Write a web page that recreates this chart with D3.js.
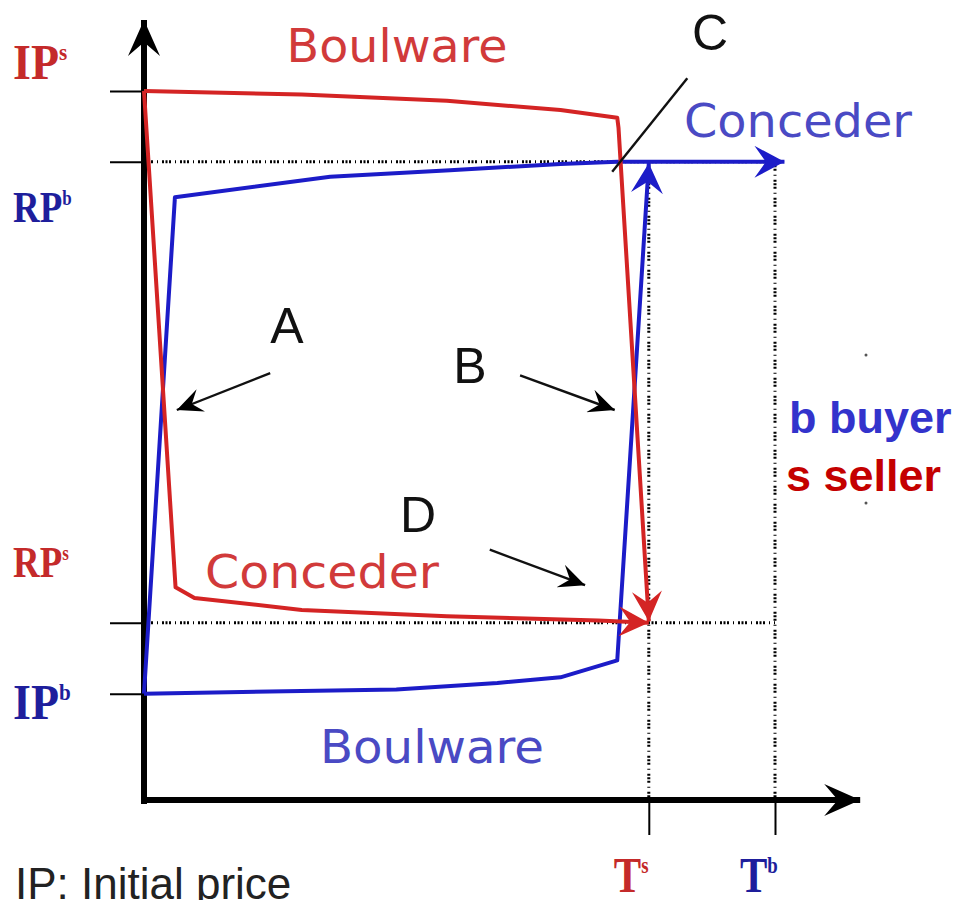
<!DOCTYPE html>
<html>
<head>
<meta charset="utf-8">
<script src="https://cdn.jsdelivr.net/npm/d3@7"></script>
<style>
  body { margin: 0; background: #fff; }
  svg { display: block; }
  .comic { font-family: "Comic Sans MS", "DejaVu Sans", sans-serif; }
  .serif { font-family: "Liberation Serif", "Times New Roman", serif; font-weight: bold; }
  .sans { font-family: "Liberation Sans", Arial, sans-serif; }
</style>
</head>
<body>
<div class="chart"></div>
<script>
const WIDTH = 959;
const HEIGHT = 900;

// price levels on the vertical axis and their labels
const priceTicks = [100, 90, 25, 15];
const priceLabels = [["IP", "s"], ["RP", "b"], ["RP", "s"], ["IP", "b"]];
const priceParty = ["s", "b", "s", "b"];

// deadlines on the time axis
const timeTicks = [80, 100];
const timeLabels = [["T", "s"], ["T", "b"]];
const timeParty = ["s", "b"];

// offer curves [time, price]
const sellerBoulware = [[0, 100], [25, 99.5], [48, 98.6], [66, 97.3], [75, 96.2], [75.2, 94.8], [80, 25.2]];
const sellerConceder = [[0, 100], [5, 30], [8, 28.5], [25, 26.8], [48, 25.9], [72, 25.3], [80, 25]];
const buyerConceder = [[0, 15], [4.9, 85], [29.5, 87.9], [48.5, 88.8], [66, 89.7], [75, 90], [101.5, 90]];
const buyerBoulware = [[0, 15], [40, 15.6], [56, 16.5], [66, 17.3], [75, 19.7], [80, 89.8]];

// annotation pointers [from, to] in [time, price]
const pointerLetters = ["A", "B", "C", "D"];
const pointerFrom = [[20, 60.2], [59.6, 59.9], [86.1, 101.8], [54.8, 35.3]];
const pointerTo = [[5.2, 55], [74.6, 55], [74.2, 88.6], [69.9, 30.3]];
const pointerHead = [true, true, false, true];

const RED = "#d42424";
const BLUE = "#1c1cc8";
const RED_TXT = "#c42a2a";
const BLUE_TXT = "#1e1e9c";

var x = d3.scaleLinear().domain([0, 100]).range([144, 775]);
var y = d3.scaleLinear().domain([0, 110]).range([800, 20]);

var svg = d3.select('.chart').append('svg')
    .attr('width', WIDTH)
    .attr('height', HEIGHT);

// arrowhead markers
var defs = svg.append('defs');
function addMarker(id, color, len, wid) {
    defs.append('marker')
        .attr('id', id)
        .attr('markerUnits', 'userSpaceOnUse')
        .attr('viewBox', (-len) + ' ' + (-wid / 2) + ' ' + (len + 1) + ' ' + wid)
        .attr('refX', 0).attr('refY', 0)
        .attr('markerWidth', len + 1).attr('markerHeight', wid)
        .attr('orient', 'auto')
        .append('path')
        .attr('d', 'M0,0L' + (-len) + ',' + (-wid / 2) + 'L' + (-len * 0.62) + ',0L' + (-len) + ',' + (wid / 2) + 'Z')
        .attr('fill', color);
}
addMarker('arrRed', RED, 30, 30);
addMarker('arrBlue', BLUE, 30, 32);
addMarker('arrAxis', '#000', 36, 32);
addMarker('arrSmall', '#000', 26, 24);

// dotted guides
var guides = svg.append('g')
    .attr('stroke', '#000')
    .attr('stroke-width', 3)
    .attr('stroke-dasharray', '2,1.5,2,1.5,2,4,1,4');
[90, 25].forEach(function (p) {
    guides.append('line')
        .attr('x1', x(0)).attr('x2', x(100))
        .attr('y1', y(p)).attr('y2', y(p));
});
timeTicks.forEach(function (t) {
    guides.append('line')
        .attr('x1', x(t)).attr('x2', x(t))
        .attr('y1', y(90)).attr('y2', y(0));
});

// axes (ticks through d3 axes, lines drawn with arrowheads)
var yAxis = d3.axisLeft(y).tickValues(priceTicks).tickSize(34).tickFormat('');
var xAxis = d3.axisBottom(x).tickValues(timeTicks).tickSize(35).tickFormat('');

var yAxisG = svg.append('g').attr('transform', 'translate(' + x(0) + ',0)').call(yAxis);
var xAxisG = svg.append('g').attr('transform', 'translate(0,' + y(0) + ')').call(xAxis);
[yAxisG, xAxisG].forEach(function (g) {
    g.select('.domain').remove();
    g.selectAll('.tick line').attr('stroke', '#000').attr('stroke-width', 2);
});

svg.append('line')
    .attr('x1', x(0)).attr('y1', y(0) + 4)
    .attr('x2', x(0)).attr('y2', y(110))
    .attr('stroke', '#000').attr('stroke-width', 6)
    .attr('marker-end', 'url(#arrAxis)');
svg.append('line')
    .attr('x1', x(0) - 3).attr('y1', y(0))
    .attr('x2', x(113.5)).attr('y2', y(0))
    .attr('stroke', '#000').attr('stroke-width', 6)
    .attr('marker-end', 'url(#arrAxis)');

// offer curves
var line = d3.line()
    .x(function (d) { return x(d[0]); })
    .y(function (d) { return y(d[1]); });

function drawCurve(data, color, marker) {
    svg.append('path')
        .attr('d', line(data))
        .attr('fill', 'none')
        .attr('stroke', color)
        .attr('stroke-width', 4)
        .attr('stroke-linejoin', 'round')
        .attr('marker-end', 'url(#' + marker + ')');
}
drawCurve(buyerBoulware, BLUE, 'arrBlue');
drawCurve(buyerConceder, BLUE, 'arrBlue');
drawCurve(sellerBoulware, RED, 'arrRed');
drawCurve(sellerConceder, RED, 'arrRed');

// pointers and letters
var letterPos = [[287, 343], [470, 383], [710, 50], [418, 532]];
pointerLetters.forEach(function (letter, i) {
    svg.append('line')
        .attr('x1', x(pointerFrom[i][0])).attr('y1', y(pointerFrom[i][1]))
        .attr('x2', x(pointerTo[i][0])).attr('y2', y(pointerTo[i][1]))
        .attr('stroke', '#111').attr('stroke-width', 2.4)
        .attr('marker-end', pointerHead[i] ? 'url(#arrSmall)' : null);
    svg.append('text')
        .attr('class', 'sans')
        .attr('x', letterPos[i][0]).attr('y', letterPos[i][1])
        .attr('text-anchor', 'middle')
        .attr('font-size', 50)
        .attr('fill', '#111')
        .text(letter);
});

// strategy names
var names = [
    {text: 'Boulware', color: '#d13a3a', cx: 397, by: 62, w: 221},
    {text: 'Conceder', color: '#4a4ac4', cx: 798, by: 137, w: 228},
    {text: 'Conceder', color: '#d13a3a', cx: 322, by: 588, w: 234},
    {text: 'Boulware', color: '#4a4ac4', cx: 432, by: 763, w: 224}
];
names.forEach(function (n) {
    svg.append('text')
        .attr('class', 'comic')
        .attr('x', n.cx - n.w / 2).attr('y', n.by)
        .attr('font-size', 46)
        .attr('textLength', n.w)
        .attr('lengthAdjust', 'spacingAndGlyphs')
        .attr('fill', n.color)
        .text(n.text);
});

// axis labels with superscripts
function supLabel(px, py, parts, color, size, sx) {
    var t = svg.append('text')
        .attr('class', 'serif')
        .attr('transform', 'translate(' + px + ',' + py + ') scale(' + sx + ',1)')
        .attr('font-size', size)
        .attr('fill', color);
    t.append('tspan').text(parts[0]);
    t.append('tspan')
        .attr('font-size', size * 0.46)
        .attr('dy', -size * 0.38)
        .text(parts[1]);
}
var priceLabelDy = [-12, 60, -46, 25];
priceTicks.forEach(function (p, i) {
    var isIP = priceLabels[i][0] === 'IP';
    supLabel(13, y(p) + priceLabelDy[i], priceLabels[i],
        priceParty[i] === 's' ? RED_TXT : BLUE_TXT, isIP ? 50 : 44, isIP ? 0.92 : 0.84);
});
timeTicks.forEach(function (t, i) {
    supLabel(x(t) - 35, 892, timeLabels[i],
        timeParty[i] === 's' ? RED_TXT : BLUE_TXT, 50, 0.82);
});

// legend
svg.append('text').attr('class', 'sans')
    .attr('x', 789).attr('y', 433)
    .attr('font-size', 45).attr('font-weight', 'bold')
    .attr('fill', '#3333cc')
    .text('b buyer');
svg.append('text').attr('class', 'sans')
    .attr('x', 786).attr('y', 491)
    .attr('font-size', 45).attr('font-weight', 'bold')
    .attr('fill', '#c40000')
    .text('s seller');

// footnote (cut by the bottom edge)
svg.append('text').attr('class', 'sans')
    .attr('x', 15).attr('y', 899)
    .attr('font-size', 44)
    .attr('fill', '#222')
    .text('IP: Initial price');

// stray dots
[[866, 355], [866, 503]].forEach(function (d) {
    svg.append('circle').attr('cx', d[0]).attr('cy', d[1]).attr('r', 1.5).attr('fill', '#555');
});
</script>
</body>
</html>
